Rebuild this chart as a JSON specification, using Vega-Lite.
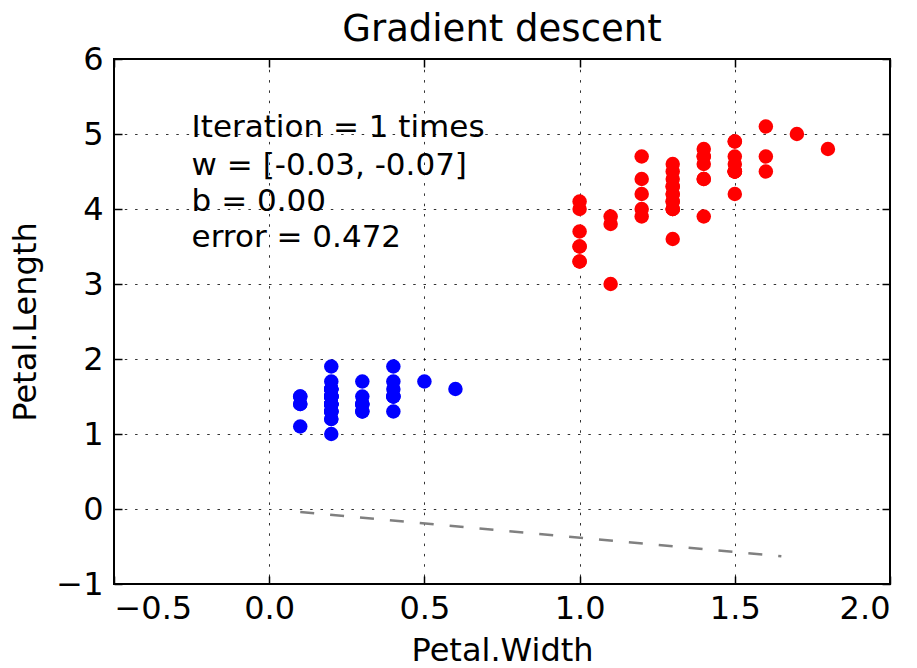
{
  "$schema": "https://vega.github.io/schema/vega-lite/v6.json",
  "width": 776,
  "height": 525,
  "autosize": "none",
  "padding": {"left": 114, "top": 59, "right": 27, "bottom": 84},
  "background": "white",
  "title": {
    "text": "Gradient descent",
    "fontSize": 37,
    "fontWeight": "normal",
    "font": "DejaVu Sans",
    "color": "black",
    "offset": -6
  },
  "config": {
    "view": {"stroke": "black", "strokeWidth": 2},
    "font": "DejaVu Sans",
    "axis": {
      "domain": false,
      "tickColor": "black",
      "tickSize": -8,
      "tickWidth": 1.5,
      "labelFont": "DejaVu Sans",
      "labelFontSize": 32,
      "labelColor": "black",
      "titleFont": "DejaVu Sans",
      "titleFontSize": 32,
      "titleFontWeight": "normal",
      "titleColor": "black"
    }
  },
  "resolve": {"axis": {"x": "independent", "y": "independent"}},
  "datasets": {
    "iris": [
      {"species": "setosa", "width": 0.2, "length": 1.4},
      {"species": "setosa", "width": 0.2, "length": 1.4},
      {"species": "setosa", "width": 0.2, "length": 1.3},
      {"species": "setosa", "width": 0.2, "length": 1.5},
      {"species": "setosa", "width": 0.2, "length": 1.4},
      {"species": "setosa", "width": 0.4, "length": 1.7},
      {"species": "setosa", "width": 0.3, "length": 1.4},
      {"species": "setosa", "width": 0.2, "length": 1.5},
      {"species": "setosa", "width": 0.2, "length": 1.4},
      {"species": "setosa", "width": 0.1, "length": 1.5},
      {"species": "setosa", "width": 0.2, "length": 1.5},
      {"species": "setosa", "width": 0.2, "length": 1.6},
      {"species": "setosa", "width": 0.1, "length": 1.4},
      {"species": "setosa", "width": 0.1, "length": 1.1},
      {"species": "setosa", "width": 0.2, "length": 1.2},
      {"species": "setosa", "width": 0.4, "length": 1.5},
      {"species": "setosa", "width": 0.4, "length": 1.3},
      {"species": "setosa", "width": 0.3, "length": 1.4},
      {"species": "setosa", "width": 0.3, "length": 1.7},
      {"species": "setosa", "width": 0.3, "length": 1.5},
      {"species": "setosa", "width": 0.2, "length": 1.7},
      {"species": "setosa", "width": 0.4, "length": 1.5},
      {"species": "setosa", "width": 0.2, "length": 1.0},
      {"species": "setosa", "width": 0.5, "length": 1.7},
      {"species": "setosa", "width": 0.2, "length": 1.9},
      {"species": "setosa", "width": 0.2, "length": 1.6},
      {"species": "setosa", "width": 0.4, "length": 1.6},
      {"species": "setosa", "width": 0.2, "length": 1.5},
      {"species": "setosa", "width": 0.2, "length": 1.4},
      {"species": "setosa", "width": 0.2, "length": 1.6},
      {"species": "setosa", "width": 0.2, "length": 1.6},
      {"species": "setosa", "width": 0.4, "length": 1.5},
      {"species": "setosa", "width": 0.1, "length": 1.5},
      {"species": "setosa", "width": 0.2, "length": 1.4},
      {"species": "setosa", "width": 0.2, "length": 1.5},
      {"species": "setosa", "width": 0.2, "length": 1.2},
      {"species": "setosa", "width": 0.2, "length": 1.3},
      {"species": "setosa", "width": 0.1, "length": 1.4},
      {"species": "setosa", "width": 0.2, "length": 1.3},
      {"species": "setosa", "width": 0.2, "length": 1.5},
      {"species": "setosa", "width": 0.3, "length": 1.3},
      {"species": "setosa", "width": 0.3, "length": 1.3},
      {"species": "setosa", "width": 0.2, "length": 1.3},
      {"species": "setosa", "width": 0.6, "length": 1.6},
      {"species": "setosa", "width": 0.4, "length": 1.9},
      {"species": "setosa", "width": 0.3, "length": 1.4},
      {"species": "setosa", "width": 0.2, "length": 1.6},
      {"species": "setosa", "width": 0.2, "length": 1.4},
      {"species": "setosa", "width": 0.2, "length": 1.5},
      {"species": "setosa", "width": 0.2, "length": 1.4},
      {"species": "versicolor", "width": 1.4, "length": 4.7},
      {"species": "versicolor", "width": 1.5, "length": 4.5},
      {"species": "versicolor", "width": 1.5, "length": 4.9},
      {"species": "versicolor", "width": 1.3, "length": 4.0},
      {"species": "versicolor", "width": 1.5, "length": 4.6},
      {"species": "versicolor", "width": 1.3, "length": 4.5},
      {"species": "versicolor", "width": 1.6, "length": 4.7},
      {"species": "versicolor", "width": 1.0, "length": 3.3},
      {"species": "versicolor", "width": 1.3, "length": 4.6},
      {"species": "versicolor", "width": 1.4, "length": 3.9},
      {"species": "versicolor", "width": 1.0, "length": 3.5},
      {"species": "versicolor", "width": 1.5, "length": 4.2},
      {"species": "versicolor", "width": 1.0, "length": 4.0},
      {"species": "versicolor", "width": 1.4, "length": 4.7},
      {"species": "versicolor", "width": 1.3, "length": 3.6},
      {"species": "versicolor", "width": 1.4, "length": 4.4},
      {"species": "versicolor", "width": 1.5, "length": 4.5},
      {"species": "versicolor", "width": 1.0, "length": 4.1},
      {"species": "versicolor", "width": 1.5, "length": 4.5},
      {"species": "versicolor", "width": 1.1, "length": 3.9},
      {"species": "versicolor", "width": 1.8, "length": 4.8},
      {"species": "versicolor", "width": 1.3, "length": 4.0},
      {"species": "versicolor", "width": 1.5, "length": 4.9},
      {"species": "versicolor", "width": 1.2, "length": 4.7},
      {"species": "versicolor", "width": 1.3, "length": 4.3},
      {"species": "versicolor", "width": 1.4, "length": 4.4},
      {"species": "versicolor", "width": 1.4, "length": 4.8},
      {"species": "versicolor", "width": 1.7, "length": 5.0},
      {"species": "versicolor", "width": 1.5, "length": 4.5},
      {"species": "versicolor", "width": 1.0, "length": 3.5},
      {"species": "versicolor", "width": 1.1, "length": 3.8},
      {"species": "versicolor", "width": 1.0, "length": 3.7},
      {"species": "versicolor", "width": 1.2, "length": 3.9},
      {"species": "versicolor", "width": 1.6, "length": 5.1},
      {"species": "versicolor", "width": 1.5, "length": 4.5},
      {"species": "versicolor", "width": 1.6, "length": 4.5},
      {"species": "versicolor", "width": 1.5, "length": 4.7},
      {"species": "versicolor", "width": 1.3, "length": 4.4},
      {"species": "versicolor", "width": 1.3, "length": 4.1},
      {"species": "versicolor", "width": 1.3, "length": 4.0},
      {"species": "versicolor", "width": 1.2, "length": 4.4},
      {"species": "versicolor", "width": 1.4, "length": 4.6},
      {"species": "versicolor", "width": 1.2, "length": 4.0},
      {"species": "versicolor", "width": 1.0, "length": 3.3},
      {"species": "versicolor", "width": 1.3, "length": 4.2},
      {"species": "versicolor", "width": 1.2, "length": 4.2},
      {"species": "versicolor", "width": 1.3, "length": 4.2},
      {"species": "versicolor", "width": 1.3, "length": 4.3},
      {"species": "versicolor", "width": 1.1, "length": 3.0},
      {"species": "versicolor", "width": 1.3, "length": 4.1}
    ],
    "boundary": [
      {"width": 0.1, "length": -0.04},
      {"width": 1.65, "length": -0.63}
    ],
    "notes": [
      {"width": -0.25, "length": 4.96, "label": "Iteration = 1 times"},
      {"width": -0.25, "length": 4.46, "label": "w = [-0.03, -0.07]"},
      {"width": -0.25, "length": 3.97, "label": "b = 0.00"},
      {"width": -0.25, "length": 3.49, "label": "error = 0.472"}
    ]
  },
  "layer": [
    {
      "data": {"name": "boundary"},
      "mark": {"type": "line", "color": "#808080", "strokeWidth": 2.5, "strokeDash": [14, 16]},
      "encoding": {
        "x": {
          "field": "width",
          "type": "quantitative",
          "scale": {"domain": [-0.5, 2.0], "nice": false, "zero": false},
          "axis": {
            "orient": "bottom",
            "title": "Petal.Width",
            "values": [-0.5, 0, 0.5, 1, 1.5, 2],
            "format": ".1f",
            "labelPadding": 17,
            "titlePadding": 11,
            "grid": true,
            "gridColor": "black",
            "gridDash": [2.5, 7.8],
            "gridWidth": 1,
            "gridOpacity": 0.8
          }
        },
        "y": {
          "field": "length",
          "type": "quantitative",
          "scale": {"domain": [-1, 6], "nice": false, "zero": false},
          "axis": {
            "orient": "left",
            "title": "Petal.Length",
            "values": [-1, 0, 1, 2, 3, 4, 5, 6],
            "format": "d",
            "labelPadding": 19,
            "titlePadding": 13,
            "grid": true,
            "gridColor": "black",
            "gridDash": [2.5, 7.8],
            "gridWidth": 1,
            "gridOpacity": 0.8
          }
        }
      }
    },
    {
      "data": {"name": "iris"},
      "mark": {"type": "circle", "size": 210, "opacity": 1},
      "encoding": {
        "x": {
          "field": "width",
          "type": "quantitative",
          "axis": {"orient": "top", "title": null, "labels": false, "grid": false, "values": [-0.5, 0, 0.5, 1, 1.5, 2]}
        },
        "y": {
          "field": "length",
          "type": "quantitative",
          "axis": {"orient": "right", "title": null, "labels": false, "grid": false, "values": [-1, 0, 1, 2, 3, 4, 5, 6]}
        },
        "color": {
          "field": "species",
          "type": "nominal",
          "scale": {"domain": ["setosa", "versicolor"], "range": ["#0000ff", "#ff0000"]},
          "legend": null
        }
      }
    },
    {
      "data": {"name": "notes"},
      "mark": {"type": "text", "align": "left", "baseline": "alphabetic", "fontSize": 31, "font": "DejaVu Sans", "color": "black"},
      "encoding": {
        "x": {"field": "width", "type": "quantitative", "axis": null},
        "y": {"field": "length", "type": "quantitative", "axis": null},
        "text": {"field": "label"}
      }
    }
  ]
}
